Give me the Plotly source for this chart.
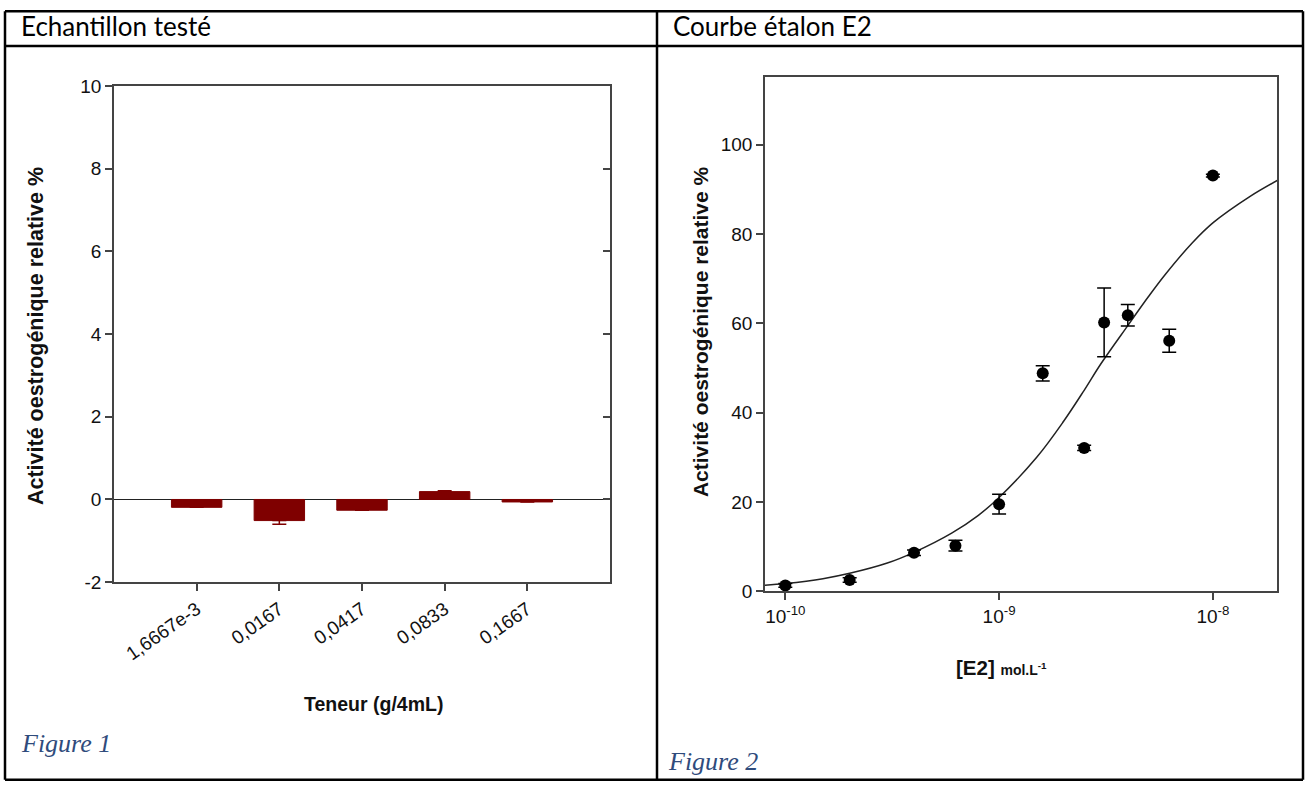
import plotly.graph_objects as go

W, H = 1306, 792

# ---------------- data ----------------
categories = ["1,6667e-3", "0,0167", "0,0417", "0,0833", "0,1667"]
bar_values = [-0.19, -0.51, -0.26, 0.19, -0.06]
bar_err_minus = [0.0, 0.09, 0.0, 0.0, 0.0]
bar_err_plus = [0.0, 0.0, 0.0, 0.02, 0.0]

e2_conc = [1e-10, 2e-10, 4e-10, 6.25e-10, 1e-9, 1.6e-9, 2.5e-9, 3.1e-9, 4e-9, 6.25e-9, 1e-8]
e2_activity = [1.3, 2.5, 8.6, 10.2, 19.5, 48.8, 32.1, 60.2, 61.8, 56.1, 93.1]
e2_err = [0.4, 0.5, 0.6, 1.2, 2.2, 1.7, 0.6, 7.7, 2.4, 2.6, 0.3]

curve_conc = [8e-11, 1e-10, 1.5e-10, 2e-10, 3e-10, 4e-10, 6e-10, 8e-10, 1e-9, 1.5e-9,
              2e-9, 2.5e-9, 3e-9, 4e-9, 5e-9, 6e-9, 8e-9, 1e-8, 1.5e-8, 2e-8]
curve_activity = [1.3, 1.7, 2.8, 4.0, 6.3, 8.7, 13.0, 17.0, 21.0, 30.0,
                  38.0, 45.0, 51.0, 59.5, 66.0, 71.0, 78.0, 82.5, 88.5, 92.0]

y1_ticks = [-2, 0, 2, 4, 6, 8, 10]
y1_ticktext = ["-2", "0", "2", "4", "6", "8", "10"]
y2_ticks = [0, 20, 40, 60, 80, 100]
x2_ticks = [1e-10, 1e-9, 1e-8]
x2_ticktext = ["10<sup>-10</sup>", "10<sup>-9</sup>", "10<sup>-8</sup>"]


def px(x):
    return x / W


def py(y):
    # target pixel row -> paper fraction (the photographed page is slightly
    # squeezed vertically, so rows are mapped back before conversion)
    yy = (y - 9.1) / 0.973
    yy = min(max(yy, 1.3), H - 1.3)
    return 1 - yy / H


BAR_COLOR = "#7f0000"
AX_COLOR = "#444444"
FONT = "Liberation Sans, Arial, sans-serif"

fig = go.Figure()

fig.add_trace(go.Bar(
    x=categories, y=bar_values, width=0.61,
    marker=dict(color=BAR_COLOR, line=dict(color=BAR_COLOR, width=1)),
    error_y=dict(type="data", symmetric=False, array=bar_err_plus,
                 arrayminus=bar_err_minus, color=BAR_COLOR, thickness=1.5, width=7),
    xaxis="x", yaxis="y", showlegend=False,
))

fig.add_trace(go.Scatter(
    x=curve_conc, y=curve_activity, mode="lines", line_shape="spline",
    line=dict(color="#222222", width=1.5), xaxis="x2", yaxis="y2", showlegend=False,
))

fig.add_trace(go.Scatter(
    x=e2_conc, y=e2_activity, mode="markers",
    marker=dict(color="black", size=12),
    error_y=dict(type="data", array=e2_err, color="black", thickness=1.5, width=7),
    xaxis="x2", yaxis="y2", showlegend=False,
))

tickfont = dict(family=FONT, size=19, color="#111111")

fig.update_layout(
    width=W, height=H,
    margin=dict(l=0, r=0, t=0, b=0),
    paper_bgcolor="white", plot_bgcolor="white",
    xaxis=dict(
        domain=[px(114), px(610)], anchor="y", type="category",
        range=[-1, 5], showgrid=False, showline=True, mirror=True,
        linecolor=AX_COLOR, linewidth=1.5, ticks="outside", ticklen=7,
        tickcolor=AX_COLOR, tickwidth=1.5, tickangle=-35, tickfont=tickfont,
    ),
    yaxis=dict(
        domain=[py(581), py(85)], anchor="x", range=[-2, 10],
        tickvals=y1_ticks, ticktext=y1_ticktext, showgrid=False, showline=True,
        mirror=True, linecolor=AX_COLOR, linewidth=1.5, ticks="outside", ticklen=7,
        tickcolor=AX_COLOR, tickwidth=1.5, tickfont=tickfont,
        zeroline=True, zerolinecolor="#222222", zerolinewidth=1.2,
    ),
    yaxis3=dict(
        overlaying="y", side="right", anchor="x", range=[-2, 10],
        tickvals=y1_ticks, showticklabels=False, showgrid=False,
        ticks="inside", ticklen=7, tickcolor=AX_COLOR, tickwidth=1.5,
        zeroline=False, showline=False,
    ),
    xaxis2=dict(
        domain=[px(765), px(1277)], anchor="y2", type="log",
        range=[-10.095, -7.70], tickvals=x2_ticks, ticktext=x2_ticktext,
        showgrid=False, showline=True, mirror=True, linecolor=AX_COLOR,
        linewidth=1.5, ticks="outside", ticklen=7, tickcolor=AX_COLOR,
        tickwidth=1.5, tickfont=tickfont,
    ),
    yaxis2=dict(
        domain=[py(590), py(76)], anchor="x2", range=[0, 115.2],
        tickvals=y2_ticks, showgrid=False, showline=True, mirror=True,
        linecolor=AX_COLOR, linewidth=1.5, ticks="outside", ticklen=7,
        tickcolor=AX_COLOR, tickwidth=1.5, tickfont=tickfont, zeroline=False,
    ),
)

# trace on yaxis3 so the inner right-hand ticks are drawn
fig.add_trace(go.Scatter(x=[categories[0]], y=[None], xaxis="x", yaxis="y3",
                         showlegend=False, hoverinfo="skip"))

# ---------------- table frame ----------------
line = dict(color="black", width=2.5)
for x0, y0, x1, y1 in [
    (5, 5, 1303, 5), (5, 45, 1303, 45), (5, 790, 1303, 790),
    (5, 5, 5, 790), (657, 5, 657, 790), (1303, 5, 1303, 790),
]:
    fig.add_shape(type="line", xref="paper", yref="paper",
                  x0=px(x0), y0=py(y0), x1=px(x1), y1=py(y1), line=line)

ann = []
head_font = dict(family="Lato, Open Sans, sans-serif", size=26, color="black")
ann.append(dict(text="Echantillon testé", x=px(19), y=py(25), xanchor="left",
                yanchor="middle", font=head_font))
ann.append(dict(text="Courbe étalon E2", x=px(671), y=py(25), xanchor="left",
                yanchor="middle", font=head_font))

cap_font = dict(family="Liberation Serif, serif", size=26, color="#2f4b7c")
ann.append(dict(text="<i>Figure 1</i>", x=px(19), y=py(742), xanchor="left",
                yanchor="middle", font=cap_font))
ann.append(dict(text="<i>Figure 2</i>", x=px(666), y=py(760), xanchor="left",
                yanchor="middle", font=cap_font))

ann.append(dict(text="<b>Activité oestrogénique relative %</b>", x=px(36), y=py(335),
                xanchor="center", yanchor="middle", textangle=-90,
                font=dict(family=FONT, size=21.5, color="#111111")))
ann.append(dict(text="<b>Activité oestrogénique relative %</b>", x=px(700), y=py(331),
                xanchor="center", yanchor="middle", textangle=-90,
                font=dict(family=FONT, size=21, color="#111111")))
ann.append(dict(text="<b>Teneur (g/4mL)</b>", x=px(373), y=py(703),
                xanchor="center", yanchor="middle",
                font=dict(family=FONT, size=19.5, color="#111111")))
ann.append(dict(text="<b>[E2]</b> <b><span style='font-size:14px'>mol.L<sup>-1</sup></span></b>",
                x=px(1002), y=py(666), xanchor="center", yanchor="middle",
                font=dict(family=FONT, size=20.5, color="#111111")))

for a in ann:
    a.update(xref="paper", yref="paper", showarrow=False)
fig.update_layout(annotations=ann)

fig.write_html(
    "out.html",
    config={"displayModeBar": False},
    post_script=(
        "document.documentElement.style.margin='0';"
        "document.body.style.margin='0';"
    ),
)
